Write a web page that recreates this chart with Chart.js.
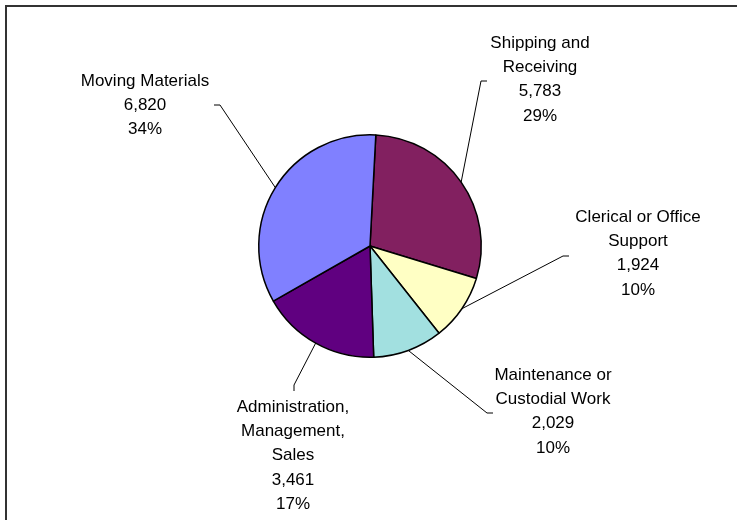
<!DOCTYPE html>
<html>
<head>
<meta charset="utf-8">
<title>Jobs by type of work</title>
<script src="https://cdn.jsdelivr.net/npm/chart.js@4.4.1/dist/chart.umd.min.js"></script>
<style>
    html, body { margin: 0; padding: 0; background: #fff; overflow: hidden; }
    #wrap { position: relative; width: 737px; height: 520px; }
    #frame {
        position: absolute; left: 5px; top: 5px; width: 800px; height: 600px;
        border-top: 2px solid #333; border-left: 2px solid #333;
        pointer-events: none;
    }
    canvas { position: absolute; left: 0; top: 0; }
</style>
</head>
<body>
<div id="wrap">
    <canvas id="pieChart" width="737" height="520"></canvas>
    <div id="frame"></div>
</div>
<script>
// Slices in clockwise order starting near 12 o'clock
const labels = [
    ['Shipping and', 'Receiving'],
    ['Clerical or Office', 'Support'],
    ['Maintenance or', 'Custodial Work'],
    ['Administration,', 'Management,', 'Sales'],
    ['Moving Materials']
];
const values = [5783, 1924, 2029, 3461, 6820];
const sliceColors = ['#822060', '#FFFFC4', '#A2E0E0', '#600080', '#8080FF'];

// Label placement, relative to the pie centre: elbow of the leader, end of the short tick, text anchor
const labelLayout = [
    { elbow: [111, -165], tick: [117, -165], text: [170, -203] },
    { elbow: [193, 10], tick: [199, 10], text: [268, -29] },
    { elbow: [117, 167], tick: [123, 167], text: [183, 129] },
    { elbow: [-76, 139], tick: [-76, 145], text: [-77, 161] },
    { elbow: [-150, -141], tick: [-156, -141], text: [-225, -165] }
];
const lineHeight = 24.4;
const labelFont = '17px "Liberation Sans", Arial, sans-serif';

const total = values.reduce((a, b) => a + b, 0);

const outsideLabels = {
    id: 'outsideLabels',
    afterDatasetsDraw(chart) {
        const ctx = chart.ctx;
        const arcs = chart.getDatasetMeta(0).data;
        ctx.save();
        arcs.forEach((arc, i) => {
            const { x, y, startAngle, endAngle, outerRadius } = arc.getProps(['x', 'y', 'startAngle', 'endAngle', 'outerRadius'], true);
            const mid = (startAngle + endAngle) / 2;
            const lay = labelLayout[i];

            // leader line from the slice edge
            ctx.strokeStyle = '#000';
            ctx.lineWidth = 1;
            ctx.beginPath();
            ctx.moveTo(x + Math.cos(mid) * outerRadius, y + Math.sin(mid) * outerRadius);
            ctx.lineTo(x + lay.elbow[0], y + lay.elbow[1]);
            ctx.lineTo(x + lay.tick[0], y + lay.tick[1]);
            ctx.stroke();

            // name, value, share
            const pct = Math.round(values[i] / total * 100) + '%';
            const lines = labels[i].concat([values[i].toLocaleString('en-US'), pct]);
            ctx.fillStyle = '#000';
            ctx.font = labelFont;
            ctx.textAlign = 'center';
            ctx.textBaseline = 'middle';
            lines.forEach((t, k) => {
                ctx.fillText(t, x + lay.text[0], y + lay.text[1] + k * lineHeight);
            });
        });
        ctx.restore();
    }
};

new Chart(document.getElementById('pieChart'), {
    type: 'pie',
    data: {
        labels: labels.map(l => l.join(' ')),
        datasets: [{
            data: values,
            backgroundColor: sliceColors,
            borderColor: '#000',
            borderWidth: 1.5
        }]
    },
    options: {
        responsive: false,
        animation: false,
        rotation: 3,
        layout: { padding: { left: 258, right: 255, top: 134, bottom: 162 } },
        plugins: {
            legend: { display: false },
            tooltip: { enabled: false }
        }
    },
    plugins: [outsideLabels]
});
</script>
</body>
</html>
